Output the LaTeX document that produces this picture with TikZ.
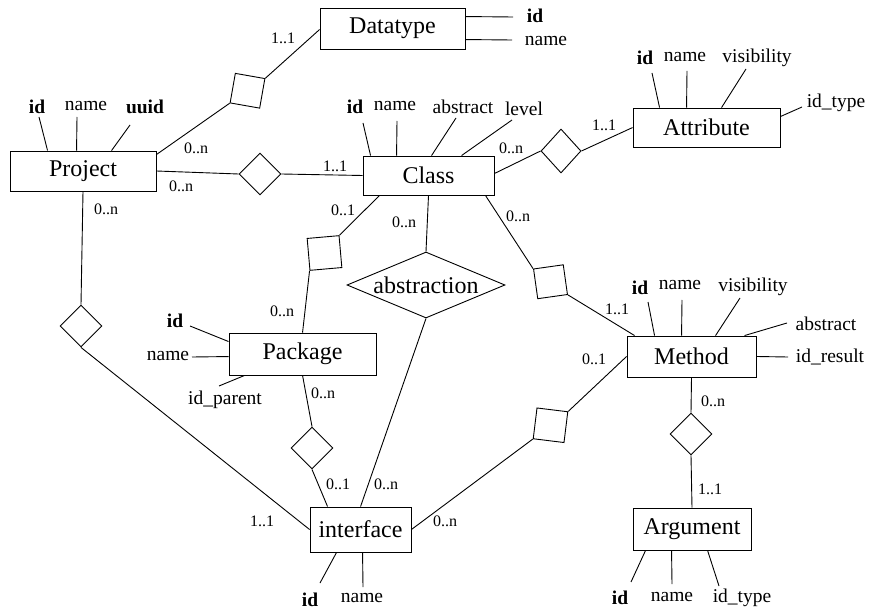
\documentclass[tikz,border=0pt]{standalone}
\usepackage{fontspec}
\setmainfont{Liberation Serif}
\usetikzlibrary{shapes.geometric}
\begin{document}
\begin{tikzpicture}[x=1pt,y=-1pt, line width=0.9pt,
 entity/.style={draw, rectangle, inner sep=0pt, font=\fontsize{24}{26}\selectfont},
 attr/.style={inner sep=0pt, font=\fontsize{19.5}{21}\selectfont},
 key/.style={inner sep=0pt, font=\fontsize{19.5}{21}\selectfont\bfseries},
 card/.style={inner sep=0pt, font=\fontsize{16}{18}\selectfont},
 rel/.style={draw, diamond, inner sep=0pt, minimum width=42pt, minimum height=42pt},
 relsq/.style={draw, rectangle, inner sep=0pt, minimum size=30pt},
]
\useasboundingbox (0,0) rectangle (870,612);

% entities
\node[entity, minimum width=146pt, minimum height=40pt] (project) at (83,171) {Project};
\node[entity, minimum width=145pt, minimum height=41pt] (datatype) at (392.5,28.5) {Datatype};
\node[entity, minimum width=131pt, minimum height=39pt] (class) at (428.5,175.5) {Class};
\node[entity, minimum width=147pt, minimum height=39pt] (attribute) at (706.5,127.5) {Attribute};
\node[entity, minimum width=147pt, minimum height=42pt] (package) at (302.5,354) {Package};
\node[entity, minimum width=129pt, minimum height=41pt] (method) at (691.5,356.5) {Method};
\node[entity, minimum width=101pt, minimum height=45pt] (interface) at (360.5,529.5) {interface};
\node[entity, minimum width=118pt, minimum height=42pt] (argument) at (692,529) {Argument};

% relationships
\node[rel] (dPC) at (260,174) {};
\node[rel, minimum width=40pt, minimum height=44pt] (dCA) at (561,151) {};
\node[rel] (dPI) at (81,326) {};
\node[rel] (dPkI) at (312,448) {};
\node[rel] (dMA) at (691,434) {};
\node[draw, diamond, aspect=2.4, inner sep=0pt, minimum width=158pt, minimum height=66pt,
      font=\fontsize{24}{26}\selectfont] (abs) at (426,285) {abstraction};
\node[relsq, rotate=-10] (sqD) at (247.5,90.75) {};
\node[relsq, minimum size=32pt, rotate=5] (sqP) at (324.5,253) {};
\node[relsq, rotate=8] (sqM) at (550.5,281.75) {};
\node[relsq, minimum size=31pt, rotate=-7] (sqI) at (550.5,425.25) {};

% connectors
\draw ([yshift=-4pt]project.north east) -- (sqD.south west);
\draw (sqD.north east) -- ([yshift=-22pt]datatype.north west);
\draw (project.east) -- (dPC.west);
\draw (dPC.east) -- (class.west);
\draw ([yshift=2pt]class.east) -- (dCA.west);
\draw (dCA.east) -- ([yshift=-20pt]attribute.north west);
\draw ([xshift=17pt]class.south west) -- (sqP.north east);
\draw (sqP.south west) -- ([xshift=74pt]package.north west);
\draw (class.south) -- (abs.north);
\draw (abs.south) -- ([xshift=51pt]interface.north west);
\draw ([xshift=-9pt]class.south east) -- (sqM.north west);
\draw (sqM.south east) -- ([xshift=8pt]method.north west);
\draw (method.west) -- (sqI.north east);
\draw (sqI.south west) -- (interface.east);
\draw (method.south) -- (dMA.north);
\draw (dMA.south) -- (argument.north);
\draw (project.south) -- (dPI.north);
\draw (dPI.south) -- (interface.west);
\draw ([xshift=74pt]package.south west) -- (dPkI.north);
\draw (dPkI.south) -- ([xshift=18pt]interface.north west);

% cardinalities
\node[card] (c1) at (283,38) {1..1};
\node[card] (c2) at (196,148) {0..n};
\node[card] (c3) at (181,186) {0..n};
\node[card] (c4) at (335,166) {1..1};
\node[card] (c5) at (511,148) {0..n};
\node[card] (c6) at (604,125) {1..1};
\node[card] (c7) at (343,210) {0..1};
\node[card] (c8) at (404,222) {0..n};
\node[card] (c9) at (518,216) {0..n};
\node[card] (c10) at (282,311) {0..n};
\node[card] (c11) at (617,309) {1..1};
\node[card] (c12) at (594,359) {0..1};
\node[card] (c13) at (106,209) {0..n};
\node[card] (c14) at (323,393) {0..n};
\node[card] (c15) at (338,484) {0..1};
\node[card] (c16) at (386,484) {0..n};
\node[card] (c17) at (262,521) {1..1};
\node[card] (c18) at (445,521) {0..n};
\node[card] (c19) at (713,401) {0..n};
\node[card] (c20) at (710,489) {1..1};

% Project attributes
\node[key] (pid) at (37,107) {id};
\node[attr] (pname) at (86,106) {name};
\node[key] (puuid) at (145,107) {uuid};
\coordinate (pidl) at (39,117);
\coordinate (pnamel) at (77,117);
\coordinate (puuidl) at (130,125);
\draw (pidl) -- ([xshift=38pt]project.north west);
\draw (pnamel) -- ([xshift=67pt]project.north west);
\draw (puuidl) -- ([xshift=102pt]project.north west);

% Datatype attributes
\node[key] (did) at (535,16) {id};
\node[attr] (dname) at (546,41) {name};
\coordinate (didl) at (513,17);
\coordinate (dnamel) at (512,40);
\draw (didl) -- ([yshift=-9pt]datatype.north east);
\draw (dnamel) -- ([yshift=-32pt]datatype.north east);

% Class attributes
\node[key] (cid) at (355,107) {id};
\node[attr] (cname) at (395,106) {name};
\node[attr] (cabs) at (463,107) {abstract};
\node[attr] (clevel) at (524,109) {level};
\coordinate (cidl) at (363,123);
\coordinate (cnamel) at (397,121);
\coordinate (cabsl) at (456,118);
\coordinate (clevell) at (512,120);
\draw (cidl) -- ([xshift=8pt]class.north west);
\draw (cnamel) -- ([xshift=34pt]class.north west);
\draw (cabsl) -- ([xshift=69pt]class.north west);
\draw (clevell) -- ([xshift=99pt]class.north west);

% Attribute attributes
\node[key] (aid) at (645,58) {id};
\node[attr] (aname) at (685,57) {name};
\node[attr] (avis) at (757,58) {visibility};
\node[attr] (atype) at (836,103) {id\_type};
\coordinate (aidl) at (652,73);
\coordinate (anamel) at (687,71);
\coordinate (avisl) at (746,69);
\coordinate (atypel) at (802,107);
\draw (aidl) -- ([xshift=27pt]attribute.north west);
\draw (anamel) -- ([xshift=54pt]attribute.north west);
\draw (avisl) -- ([xshift=89pt]attribute.north west);
\draw (atypel) -- ([yshift=-9pt]attribute.north east);

% Method attributes
\node[key] (mid) at (640,288) {id};
\node[attr] (mname) at (680,285) {name};
\node[attr] (mvis) at (753,287) {visibility};
\node[attr] (mabs) at (826,324) {abstract};
\node[attr] (mres) at (830,357) {id\_result};
\coordinate (midl) at (648,302);
\coordinate (mnamel) at (682,300);
\coordinate (mvisl) at (740,298);
\coordinate (mabsl) at (787,323);
\coordinate (mresl) at (788,357);
\draw (midl) -- ([xshift=28pt]method.north west);
\draw (mnamel) -- ([xshift=55pt]method.north west);
\draw (mvisl) -- ([xshift=89pt]method.north west);
\draw (mabsl) -- ([xshift=118pt]method.north west);
\draw (mresl) -- (method.east);

% Package attributes
\node[key] (kid) at (175,321) {id};
\node[attr] (kname) at (168,356) {name};
\node[attr] (kpar) at (225,400) {id\_parent};
\coordinate (kidl) at (190,326);
\coordinate (knamel) at (192,357);
\coordinate (kparl) at (219,386);
\draw (kidl) -- ([yshift=-9pt]package.north west);
\draw (knamel) -- ([yshift=-24pt]package.north west);
\draw (kparl) -- ([xshift=16pt]package.south west);

% interface attributes
\node[key] (iid) at (310,600) {id};
\node[attr] (iname) at (362,598) {name};
\coordinate (iidl) at (320,583);
\coordinate (inamel) at (363,587);
\draw (iidl) -- ([xshift=27pt]interface.south west);
\draw (inamel) -- ([xshift=53pt]interface.south west);

% Argument attributes
\node[key] (gid) at (620,598) {id};
\node[attr] (gname) at (672,597) {name};
\node[attr] (gtype) at (742,598) {id\_type};
\coordinate (gidl) at (631,582);
\coordinate (gnamel) at (672,584);
\coordinate (gtypel) at (719,586);
\draw (gidl) -- ([xshift=13pt]argument.south west);
\draw (gnamel) -- ([xshift=39pt]argument.south west);
\draw (gtypel) -- ([xshift=75pt]argument.south west);
\end{tikzpicture}
\end{document}
